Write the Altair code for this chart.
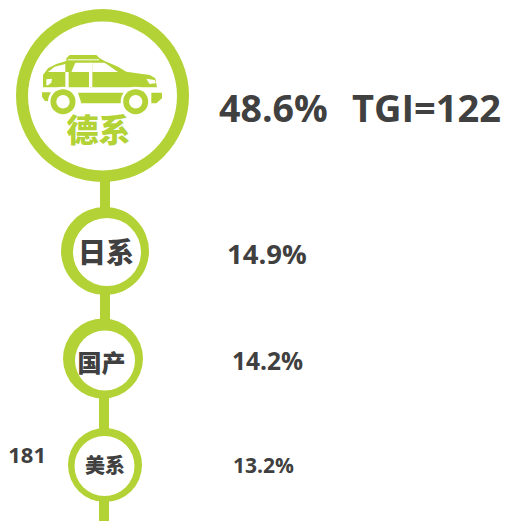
import altair as alt
import pandas as pd

GREEN = "#b2d235"
DARK = "#404040"
FONT_CJK = "Noto Sans CJK SC"
FONT_LAT = "Open Sans"

# discs: x, y, radius
outer_x = [102.5, 105, 103, 105]
outer_y = [95.5, 251, 358.5, 465]
outer_r = [86.5, 44, 40, 37]
inner_x = [102.5, 107, 105, 104.5]
inner_y = [96, 252, 360.5, 466]
inner_r = [74.5, 34, 30, 30]

# connector
line_x = [105, 105, 104, 104]
line_y = [175, 330, 385, 521]

# brand labels
brands = ["德系", "日系", "国产", "美系"]
brand_x = [98.5, 106, 101.5, 105]
brand_y = [132, 254.5, 364.5, 467]
brand_size = [32, 28, 24, 20]
brand_color = [GREEN, DARK, DARK, DARK]

# values
values = ["48.6%", "TGI=122", "14.9%", "14.2%", "13.2%", "181"]
value_x = [219, 352, 227, 232, 233, 46]
value_y = [111, 111, 256, 363, 467, 456]
value_size = [37.5, 38, 27.5, 24.5, 21, 22]
value_align = ["left", "left", "left", "left", "left", "right"]

# car icon, in zoom-crop units of the picture
CAR_CENTER = (102.0, 84.0)
car_green = [
    [(15,112),(15,75),(30,55),(55,42),(85,33),(85,25),(95,15),(175,15),(185,25),(200,33),(240,50),(265,65),(335,75),(352,85),(357,112)],
    [(12,127),(38,127),(38,155),(20,152),(12,140)],
    [(120,128),(258,128),(255,160),(130,160)],
    [(340,128),(372,128),(372,145),(355,160),(340,160)],
]
car_white = [
    [(90,28),(183,28),(183,31),(90,31)],
    [(30,66),(50,50),(82,42),(82,66)],
    [(82,66),(92,66),(92,112),(82,112)],
    [(100,66),(112,38),(153,38),(153,66)],
    [(153,38),(163,38),(163,112),(153,112)],
    [(163,66),(163,38),(200,38),(240,66)],
    [(25,88),(42,86),(40,98),(30,106),(25,106)],
    [(325,86),(350,90),(354,100),(335,102)],
]
wheel_x = [63, 135.7]
wheel_y = [101.7, 101.7]
wheel_outer = [15, 15]
wheel_ring = [12.5, 12.5]
wheel_hole = [6.7, 6.7]


def poly_path(pts):
    out = []
    for i, (zx, zy) in enumerate(pts):
        px = (38 + zx / 3 - CAR_CENTER[0]) / 100
        py = (50 + zy / 3 - CAR_CENTER[1]) / 100
        out.append(("M" if i == 0 else "L") + f"{px:.4f} {py:.4f}")
    return " ".join(out) + " Z"


X = alt.X("x:Q", scale=alt.Scale(domain=[8, 502], range=[0, 494]), axis=None)
Y = alt.Y("y:Q", scale=alt.Scale(domain=[8, 521], range=[0, 513]), axis=None)


def discs(xs, ys, rs, color):
    d = pd.DataFrame({"x": xs, "y": ys, "s": [4 * r * r for r in rs]})
    return alt.Chart(d).mark_point(filled=True, opacity=1, color=color, shape="circle", strokeWidth=0).encode(
        x=X, y=Y, size=alt.Size("s:Q", scale=None, legend=None))


def icon(pts, color):
    d = pd.DataFrame({"x": [CAR_CENTER[0]], "y": [CAR_CENTER[1]], "s": [40000]})
    return alt.Chart(d).mark_point(filled=True, opacity=1, color=color, shape=poly_path(pts), strokeWidth=0).encode(
        x=X, y=Y, size=alt.Size("s:Q", scale=None, legend=None))


def text(t, x, y, size, color, font, align, weight):
    d = pd.DataFrame({"x": [x], "y": [y], "t": [t]})
    return alt.Chart(d).mark_text(fontSize=size, fontWeight=weight, color=color, font=font,
                                  align=align, baseline="middle").encode(x=X, y=Y, text="t:N")


layers = []
for i in range(0, len(line_x), 2):
    seg = pd.DataFrame({"x": [line_x[i]], "y": [line_y[i]], "y2": [line_y[i + 1]]})
    layers.append(alt.Chart(seg).mark_rule(color=GREEN, strokeWidth=10).encode(x=X, y=Y, y2="y2:Q"))
layers.append(discs(outer_x, outer_y, outer_r, GREEN))
layers.append(discs(inner_x, inner_y, inner_r, "#ffffff"))
for p in car_green:
    layers.append(icon(p, GREEN))
for p in car_white:
    layers.append(icon(p, "#ffffff"))
layers.append(discs(wheel_x, wheel_y, wheel_outer, "#ffffff"))
layers.append(discs(wheel_x, wheel_y, wheel_ring, GREEN))
layers.append(discs(wheel_x, wheel_y, wheel_hole, "#ffffff"))
for t, x, y, s, c in zip(brands, brand_x, brand_y, brand_size, brand_color):
    layers.append(text(t, x, y, s, c, FONT_CJK, "center", 900))
for t, x, y, s, a in zip(values, value_x, value_y, value_size, value_align):
    layers.append(text(t, x, y, s, DARK, FONT_LAT, a, "bold"))

chart = alt.layer(*layers).properties(width=494, height=513, padding=0, autosize=alt.AutoSizeParams(type="none")).configure_view(stroke=None)
chart.save("out.html", embed_options={"renderer": "svg", "actions": False})
